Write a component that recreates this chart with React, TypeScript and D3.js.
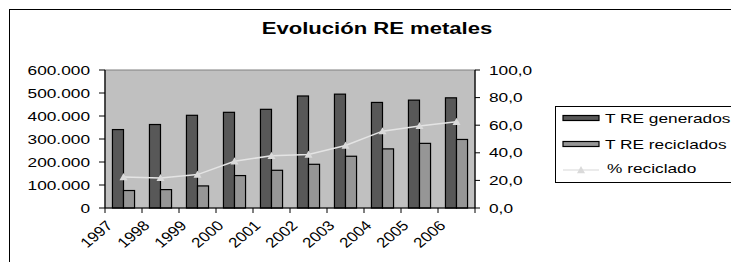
import React from "react";
import * as d3 from "d3";

const years = ["1997", "1998", "1999", "2000", "2001", "2002", "2003", "2004", "2005", "2006"];
const generados = [341000, 363000, 403000, 416000, 429000, 487000, 495000, 459000, 469000, 479000];
const reciclados = [76000, 80000, 96000, 141000, 164000, 190000, 225000, 257000, 281000, 298000];
const pctReciclado = [22.5, 21.8, 24.2, 33.9, 37.8, 38.8, 45.3, 55.7, 59.5, 62.5];
const leftTicks = [0, 100000, 200000, 300000, 400000, 500000, 600000];
const rightTicks = [0, 20, 40, 60, 80, 100];

const W = 731, H = 262;
const plot = { left: 105, right: 475, top: 70, bottom: 208 };
const SX = 1.33; // the source image is stretched horizontally
const font = "'Liberation Sans', Arial, sans-serif";

const darkFill = "#585858";
const lightFill = "#969696";
const plotBg = "#c0c0c0";
const lineCol = "#e4e4e4";

// thousands with a dot, like the original
const fmtLeft = (v: number) => (v === 0 ? "0" : d3.format(",")(v).replace(/,/g, "."));
const fmtRight = (v: number) => v.toFixed(1).replace(".", ",");

function SText(props: { x: number; y: number; anchor?: string; size?: number; bold?: boolean; rotate?: number; children: React.ReactNode; sx?: number }) {
  const { x, y, anchor = "start", size = 13, bold = false, rotate = 0, sx = SX } = props;
  return (
    <g transform={`translate(${x},${y}) scale(${sx},1) rotate(${rotate})`}>
      <text
        x={0}
        y={0}
        textAnchor={anchor as any}
        dominantBaseline="central"
        fontFamily={font}
        fontSize={size}
        fontWeight={bold ? "bold" : "normal"}
        fill="#000"
      >
        {props.children}
      </text>
    </g>
  );
}

function triangle(cx: number, cy: number, s = 4) {
  return `M${cx},${cy - s} L${cx + s},${cy + s * 0.8} L${cx - s},${cy + s * 0.8} Z`;
}

export default function App() {
  const x = d3.scaleBand<string>().domain(years).range([plot.left, plot.right]).padding(0);
  const yL = d3.scaleLinear().domain([0, 600000]).range([plot.bottom, plot.top]);
  const yR = d3.scaleLinear().domain([0, 100]).range([plot.bottom, plot.top]);
  const bw = x.bandwidth();
  const barW = bw / 3.35;
  const off = (bw - 2 * barW) / 2;

  const line = d3
    .line<number>()
    .x((_, i) => (x(years[i]) as number) + bw / 2)
    .y((d) => yR(d));

  const legX = 555, legY = 106;
  const rows = [118, 144, 168];

  return (
    <svg width={W} height={H} style={{ position: "absolute", left: 0, top: 0, background: "#fff" }}>
      <rect x={9.5} y={9.5} width={W} height={H} fill="#fff" stroke="#000" strokeWidth={1} />

      <SText x={377} y={29} anchor="middle" size={16} bold sx={1.38}>
        Evolución RE metales
      </SText>

      <rect
        x={plot.left}
        y={plot.top}
        width={plot.right - plot.left}
        height={plot.bottom - plot.top}
        fill={plotBg}
        stroke="#808080"
        strokeWidth={1}
      />

      {years.map((yr, i) => {
        const x0 = x(yr) as number;
        return (
          <g key={yr}>
            <rect
              x={x0 + off}
              y={yL(generados[i])}
              width={barW}
              height={plot.bottom - yL(generados[i])}
              fill={darkFill}
              stroke="#000"
              strokeWidth={1.2}
            />
            <rect
              x={x0 + off + barW}
              y={yL(reciclados[i])}
              width={barW}
              height={plot.bottom - yL(reciclados[i])}
              fill={lightFill}
              stroke="#000"
              strokeWidth={1.2}
            />
          </g>
        );
      })}

      <path d={line(pctReciclado) || ""} fill="none" stroke={lineCol} strokeWidth={1.5} />
      {pctReciclado.map((p, i) => (
        <path key={i} d={triangle((x(years[i]) as number) + bw / 2, yR(p))} fill="#dadada" />
      ))}

      {/* axes */}
      <line x1={plot.left} x2={plot.left} y1={plot.top} y2={plot.bottom} stroke="#000" strokeWidth={1.2} />
      <line x1={plot.right} x2={plot.right} y1={plot.top} y2={plot.bottom} stroke="#000" strokeWidth={1.2} />
      <line x1={plot.left} x2={plot.right} y1={plot.bottom} y2={plot.bottom} stroke="#000" strokeWidth={1.2} />

      {leftTicks.map((t) => (
        <g key={t}>
          <line x1={plot.left - 6} x2={plot.left} y1={yL(t)} y2={yL(t)} stroke="#000" />
          <SText x={90} y={yL(t)} anchor="end">
            {fmtLeft(t)}
          </SText>
        </g>
      ))}
      {rightTicks.map((t) => (
        <g key={t}>
          <line x1={plot.right} x2={plot.right + 5} y1={yR(t)} y2={yR(t)} stroke="#000" />
          <SText x={489} y={yR(t)}>
            {fmtRight(t)}
          </SText>
        </g>
      ))}

      {[...years.map((yr) => x(yr) as number), plot.right].map((tx, i) => (
        <line key={i} x1={tx} x2={tx} y1={plot.bottom} y2={plot.bottom + 5} stroke="#000" />
      ))}
      {years.map((yr) => (
        <SText key={yr} x={(x(yr) as number) + bw / 2 - 14} y={223} anchor="end" rotate={-45} size={14} sx={1.2}>
          {yr}
        </SText>
      ))}

      {/* legend */}
      <rect x={legX + 0.5} y={legY + 0.5} width={W} height={76} fill="#fff" stroke="#000" strokeWidth={1} />
      <rect x={563} y={rows[0] - 2.5} width={36} height={5} fill={darkFill} stroke="#000" strokeWidth={1.2} />
      <SText x={605} y={rows[0]}>T RE generados</SText>
      <rect x={563} y={rows[1] - 2.5} width={36} height={5} fill={lightFill} stroke="#000" strokeWidth={1.2} />
      <SText x={605} y={rows[1]}>T RE reciclados</SText>
      <line x1={563} x2={599} y1={rows[2] + 2} y2={rows[2] + 2} stroke={lineCol} strokeWidth={1.5} />
      <path d={triangle(581, rows[2] + 2)} fill="#dadada" />
      <SText x={607} y={rows[2]}>% reciclado</SText>
    </svg>
  );
}
